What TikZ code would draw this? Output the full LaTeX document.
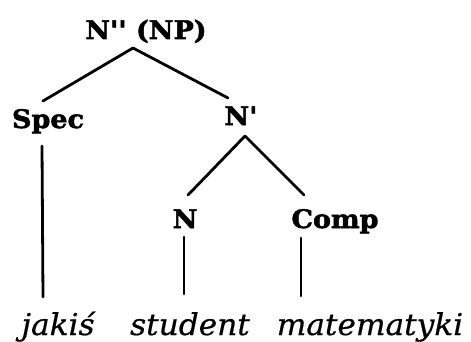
\documentclass[tikz,border=0pt]{standalone}
\usepackage{fontspec}
\newfontfamily\labfont[FakeBold=2,FakeStretch=1.06]{DejaVu Serif Bold}
\newfontfamily\wordfont[FakeStretch=1.04,FakeBold=0.6]{DejaVu Serif Italic}
\begin{document}
\begin{tikzpicture}[x=1pt,y=1pt,
  lab/.style={font=\labfont\fontsize{25.5}{30}\selectfont, inner sep=0pt, anchor=base},
  word/.style={font=\wordfont\fontsize{30}{35}\selectfont, inner sep=0pt, anchor=base},
  branch/.style={line width=2.8pt, line cap=round}]
\useasboundingbox (0,0) rectangle (471,341);
% category labels
\node[lab] (np)   at (146,302) {N'' (NP)};
\node[lab] (spec) at (48,213)  {Spec};
\node[lab] (nbar) at (241,216) {N'};
\node[lab] (n)    at (185,113) {N};
\node[lab] (comp) at (335,113) {Comp};
% terminal words
\node[word] (w1) at (58,6)   {jakiś};
\node[word] (w2) at (190,6)  {student};
\node[word] (w3) at (370,6)  {matematyki};
% branches
\draw[branch] ([shift={(-13,-9)}]np.base) -- ([shift={(-5,27)}]spec.base);
\draw[branch] ([shift={(-13,-9)}]np.base) -- ([shift={(-13,27)}]nbar.base);
\draw[branch] ([shift={(4,-11)}]nbar.base) -- ([shift={(3,33)}]n.base);
\draw[branch] ([shift={(4,-11)}]nbar.base) -- ([shift={(-31,33)}]comp.base);
\draw[branch] ([shift={(-6,-18)}]spec.base) -- ([shift={(-15,38)}]w1.base);
\draw[branch] ([shift={(-1,-9)}]n.base) -- ([shift={(-6,41)}]w2.base);
\draw[branch] ([shift={(-34,-10)}]comp.base) -- ([shift={(-69,39)}]w3.base);
\end{tikzpicture}
\end{document}
